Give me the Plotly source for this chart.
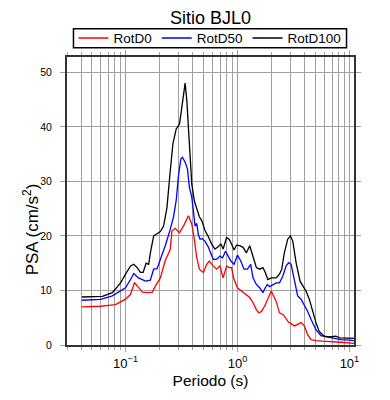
import plotly.graph_objects as go

# ---- data (period in s, PSA in cm/s^2) ----
period_d0 = [0.0407, 0.049, 0.060, 0.0736, 0.0815, 0.0903, 0.1, 0.1108, 0.1202, 0.1278,
             0.1415, 0.160, 0.1736, 0.1846, 0.2045, 0.2264, 0.2508, 0.2597, 0.2778, 0.3033,
             0.3291, 0.3645, 0.3907, 0.4094, 0.4327, 0.4564, 0.4953, 0.5309, 0.5598, 0.6001,
             0.6511, 0.6964, 0.7449, 0.7988, 0.8425, 0.8849, 0.9330, 1.000, 1.085, 1.202,
             1.286, 1.376, 1.475, 1.555, 1.643, 1.747, 1.868, 2.003, 2.218, 2.373,
             2.575, 2.852, 3.225, 3.699, 3.957, 4.232, 4.536, 5.023, 5.749, 7.051,
             8.372, 10.98]
rotd0 = [7.0, 7.05, 7.1, 7.3, 7.4, 7.9, 8.4, 9.3, 11.4, 10.8,
         9.7, 9.6, 9.7, 10.8, 12.3, 15.5, 17.5, 20.9, 21.4, 20.6,
         21.8, 23.7, 22.2, 19.7, 16.0, 13.9, 13.3, 14.8, 15.4, 14.6,
         13.9, 14.5, 12.3, 14.5, 14.2, 14.2, 12.0, 10.5, 9.9, 9.3,
         8.7, 7.8, 6.5, 5.9, 6.2, 7.1, 8.5, 9.9, 8.0, 5.9,
         5.5, 4.2, 3.5, 4.1, 3.5, 1.9, 1.0, 0.8, 0.7, 0.65,
         0.5, 0.3]

period_d50 = [0.0407, 0.049, 0.060, 0.0762, 0.0903, 0.1, 0.1108, 0.1185, 0.1304, 0.1505,
              0.1667, 0.1736, 0.1783, 0.1911, 0.2045, 0.2264, 0.2508, 0.2683, 0.2835, 0.2971,
              0.312, 0.3225, 0.3407, 0.3572, 0.3720, 0.3907, 0.4036, 0.4179, 0.4327, 0.4472,
              0.4630, 0.4853, 0.5128, 0.5484, 0.5678, 0.6075, 0.6511, 0.6964, 0.7359, 0.7826,
              0.8254, 0.8723, 0.9330, 1.000, 1.070, 1.144, 1.227, 1.313, 1.376, 1.475,
              1.578, 1.687, 1.772, 1.846, 1.935, 2.070, 2.218, 2.373, 2.538, 2.721,
              2.870, 3.015, 3.225, 3.450, 3.699, 3.957, 4.232, 4.536, 5.023, 5.564,
              6.164, 7.051, 8.372, 9.917, 10.98]
rotd50 = [8.2, 8.25, 8.35, 9.0, 9.9, 10.5, 12.0, 13.1, 12.3, 11.7,
          11.9, 13.0, 13.9, 14.0, 15.7, 18.2, 21.2, 23.5, 26.5, 31.0,
          34.1, 34.4, 33.5, 32.3, 28.9, 27.1, 24.6, 21.8, 22.3, 20.2,
          19.4, 19.5, 19.0, 18.0, 17.2, 15.7, 15.7, 16.3, 16.0, 17.2,
          16.3, 15.4, 14.8, 16.5, 15.4, 13.9, 13.9, 14.8, 12.3, 11.1,
          10.5, 9.6, 10.5, 11.1, 10.7, 11.1, 11.4, 11.4, 12.6, 14.5,
          15.1, 14.8, 12.0, 9.0, 8.4, 7.4, 6.2, 4.7, 2.8, 1.7,
          1.5, 1.2, 1.0, 0.9, 0.8]

period_d100 = [0.0407, 0.049, 0.0621, 0.0762, 0.0903, 0.1, 0.1108, 0.1185, 0.127, 0.1359,
               0.1436, 0.1527, 0.161, 0.1667, 0.1725, 0.1783, 0.1911, 0.2045, 0.2187, 0.2344,
               0.2508, 0.265, 0.2835, 0.3033, 0.3185, 0.3407, 0.3528, 0.3720, 0.3907, 0.4120,
               0.4327, 0.4564, 0.4794, 0.4953, 0.5128, 0.5484, 0.5879, 0.6289, 0.6727, 0.7108,
               0.7449, 0.7988, 0.8425, 0.8849, 0.9330, 0.9797, 1.048, 1.121, 1.202, 1.286,
               1.376, 1.475, 1.578, 1.687, 1.772, 1.868, 2.003, 2.218, 2.373, 2.487,
               2.628, 2.812, 2.972, 3.115, 3.339, 3.624, 3.822, 4.096, 4.381, 4.687,
               5.023, 5.374, 5.953, 6.592, 7.556, 8.203, 9.272, 10.98]
rotd100 = [8.8, 8.85, 8.9, 9.6, 11.4, 13.0, 14.5, 14.8, 14.2, 13.3,
           13.3, 15.0, 14.8, 16.9, 18.2, 20.0, 20.4, 20.8, 21.8, 25.2,
           31.9, 36.9, 39.6, 40.5, 43.6, 48.0, 44.8, 35.6, 29.5, 26.4,
           25.0, 23.5, 22.8, 21.8, 21.0, 19.9, 18.5, 17.6, 18.0, 18.5,
           17.6, 19.7, 19.4, 18.5, 17.4, 18.3, 18.2, 17.9, 16.9, 18.2,
           16.3, 14.2, 13.9, 14.2, 13.3, 12.0, 12.3, 12.3, 13.0, 13.9,
           17.0, 19.4, 20.0, 19.1, 15.1, 11.7, 10.9, 9.9, 8.4, 6.2,
           4.1, 2.5, 1.6, 1.5, 1.6, 1.3, 1.25, 1.2]

series_names = ["RotD0", "RotD50", "RotD100"]
series_colors = ["#ff0000", "#0000ff", "#000000"]

major_x = [0.1, 1, 10]
major_x_text = ["10<sup>\u22121</sup>", "10<sup>0</sup>", "10<sup>1</sup>"]
minor_x = [m * 10 ** e for e in (-2, -1, 0, 1) for m in range(2, 10)]
y_ticks = [0, 10, 20, 30, 40, 50]

FONT = "Liberation Sans, Arial, Helvetica, sans-serif"
GRID = "rgb(160,160,160)"
SPINE = "rgb(51,51,51)"

# page body has an 8px margin: figure is 382x392 placed at (8, 8)
W, H = 382, 392
L, T = 58.5, 49.3
PW, PH = 288, 288

def px(fx):   # figure-x pixel -> paper x
    return (fx - L) / PW

def py(fy):   # figure-y pixel -> paper y
    return 1 + (T - fy) / PH

fig = go.Figure()
for per, vals, name, col in zip([period_d0, period_d50, period_d100],
                                [rotd0, rotd50, rotd100], series_names, series_colors):
    fig.add_trace(go.Scatter(x=per, y=vals, mode="lines", name=name,
                             line=dict(color=col, width=1.3)))

fig.update_layout(
    width=W, height=H,
    margin=dict(l=L, r=W - L - PW, t=T, b=H - T - PH, pad=0, autoexpand=False),
    paper_bgcolor="white", plot_bgcolor="white",
    font=dict(family=FONT, color="black"),
    title=dict(text="Sitio BJL0", x=0.5, xref="paper", xanchor="center",
               y=1 - 3 / H, yref="container", yanchor="top", pad=dict(t=0, b=0),
               font=dict(size=18, family=FONT, color="black")),
    showlegend=True,
    legend=dict(orientation="h", x=px(65), xanchor="left", y=py(30.5), yanchor="middle",
                borderwidth=0, bgcolor="rgba(0,0,0,0)",
                font=dict(size=13.5, family=FONT), traceorder="normal"),
    shapes=[dict(type="rect", xref="paper", yref="paper",
                 x0=px(65), x1=px(339), y0=py(40), y1=py(21),
                 line=dict(color="black", width=1.5), fillcolor="rgba(0,0,0,0)", layer="below")],
    annotations=[dict(text="PSA (cm/s<sup>2</sup>)", textangle=-90, showarrow=False,
                      xref="paper", yref="paper", x=px(22), y=py(222),
                      xanchor="center", yanchor="middle",
                      font=dict(size=17, family=FONT, color="black"))],
)

fig.update_xaxes(
    type="log", range=[-1.523, 1.041],
    tickmode="array", tickvals=major_x, ticktext=major_x_text,
    ticks="outside", ticklen=5, tickcolor=GRID, tickwidth=1,
    showgrid=True, gridcolor=GRID, gridwidth=1,
    minor=dict(tickmode="array", tickvals=minor_x, ticks="outside", ticklen=3,
               tickcolor=GRID, showgrid=True, gridcolor=GRID, gridwidth=1),
    showline=True, linecolor=SPINE, linewidth=2, mirror="allticks",
    tickfont=dict(size=13, family=FONT),
    title=dict(text="Periodo (s)", font=dict(size=15.5, family=FONT), standoff=6),
    zeroline=False,
)
fig.update_yaxes(
    range=[0, 52.8], tickmode="array", tickvals=y_ticks,
    ticks="outside", ticklen=5, tickcolor=GRID, tickwidth=1,
    showgrid=True, gridcolor=GRID, gridwidth=1,
    showline=True, linecolor=SPINE, linewidth=2, mirror="allticks",
    tickfont=dict(size=10.5, family=FONT), ticklabelstandoff=6,
    zeroline=False,
)

fig.write_html("out.html")
